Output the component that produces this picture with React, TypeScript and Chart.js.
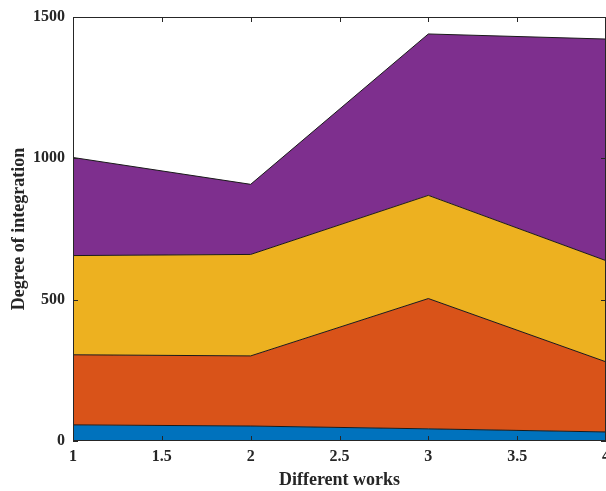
import React, { useEffect, useRef } from "react";
import { Chart, registerables } from "chart.js";

Chart.register(...registerables);

const works = [1, 2, 3, 4];
const seriesBlue = [57, 53, 43, 32];
const seriesOrange = [248, 248, 461, 248];
const seriesYellow = [351, 359, 365, 358];
const seriesPurple = [347, 248, 571, 784];
const xTicks = [1, 1.5, 2, 2.5, 3, 3.5, 4];
const yTicks = [0, 500, 1000, 1500];

const colors = ["#0072BD", "#D95319", "#EDB120", "#7E2F8E"];

const boxPlugin = {
  id: "boxTicks",
  afterDatasetsDraw(chart: any) {
    const { ctx, chartArea: a, scales } = chart;
    ctx.save();
    ctx.strokeStyle = "#262626";
    ctx.lineWidth = 1;
    ctx.strokeRect(a.left + 0.5, a.top + 0.5, a.right - a.left - 1, a.bottom - a.top - 1);
    const len = 5;
    ctx.beginPath();
    for (const v of xTicks) {
      const x = Math.round(scales.x.getPixelForValue(v)) + 0.5;
      ctx.moveTo(x, a.bottom);
      ctx.lineTo(x, a.bottom - len);
      ctx.moveTo(x, a.top);
      ctx.lineTo(x, a.top + len);
    }
    for (const v of yTicks) {
      const y = Math.round(scales.y.getPixelForValue(v)) + 0.5;
      ctx.moveTo(a.left, y);
      ctx.lineTo(a.left + len, y);
      ctx.moveTo(a.right, y);
      ctx.lineTo(a.right - len, y);
    }
    ctx.stroke();
    ctx.restore();
  },
};

export default function App() {
  const ref = useRef<HTMLCanvasElement>(null);
  useEffect(() => {
    const series = [seriesBlue, seriesOrange, seriesYellow, seriesPurple];
    const chart = new Chart(ref.current!, {
      type: "line",
      data: {
        datasets: series.map((s, i) => ({
          label: "s" + i,
          data: works.map((w, j) => ({ x: w, y: s[j] })),
          backgroundColor: colors[i],
          borderColor: "#1a1a1a",
          borderWidth: 1,
          pointRadius: 0,
          fill: i === 0 ? "origin" : "-1",
          tension: 0,
        })),
      },
      options: {
        animation: false,
        responsive: false,
        maintainAspectRatio: false,
        layout: { padding: { top: 17, right: 0, left: 0, bottom: 0 } },
        plugins: { legend: { display: false }, tooltip: { enabled: false } },
        scales: {
          x: {
            type: "linear",
            min: 1,
            max: 4,
            afterBuildTicks: (s: any) => {
              s.ticks = xTicks.map((v) => ({ value: v }));
            },
            afterFit: (s: any) => {
              s.height = 50;
              s.paddingRight = 0;
              s.paddingLeft = 0;
            },
            grid: { display: false, tickLength: 2 },
            border: { display: false },
            ticks: {
              color: "#262626",
              font: { family: "Liberation Serif", size: 16, weight: "bold", lineHeight: 1 },
              padding: 6,
              maxRotation: 0,
              callback: (v: any) => String(v),
            },
            title: {
              display: true,
              text: "Different works",
              color: "#262626",
              font: { family: "Liberation Serif", size: 18, weight: "bold" },
              padding: { top: 0, bottom: 0 },
            },
          },
          y: {
            type: "linear",
            stacked: true,
            min: 0,
            max: 1500,
            afterBuildTicks: (s: any) => {
              s.ticks = yTicks.map((v) => ({ value: v }));
            },
            afterFit: (s: any) => {
              s.width = 73;
              s.paddingTop = 0;
              s.paddingBottom = 0;
            },
            grid: { display: false, tickLength: 8 },
            border: { display: false },
            ticks: {
              color: "#262626",
              font: { family: "Liberation Serif", size: 16, weight: "bold" },
              padding: 0,
              callback: (v: any) => String(v),
            },
            title: {
              display: true,
              text: "Degree of integration",
              color: "#262626",
              font: { family: "Liberation Serif", size: 18, weight: "bold" },
              padding: { top: 9, bottom: 0 },
            },
          },
        },
      } as any,
      plugins: [boxPlugin],
    });
    return () => chart.destroy();
  }, []);
  return (
    <div style={{ position: "fixed", left: 0, top: 0, width: 606, height: 491, background: "#fff" }}>
      <canvas ref={ref} width={606} height={491} style={{ display: "block", width: 606, height: 491 }} />
    </div>
  );
}
